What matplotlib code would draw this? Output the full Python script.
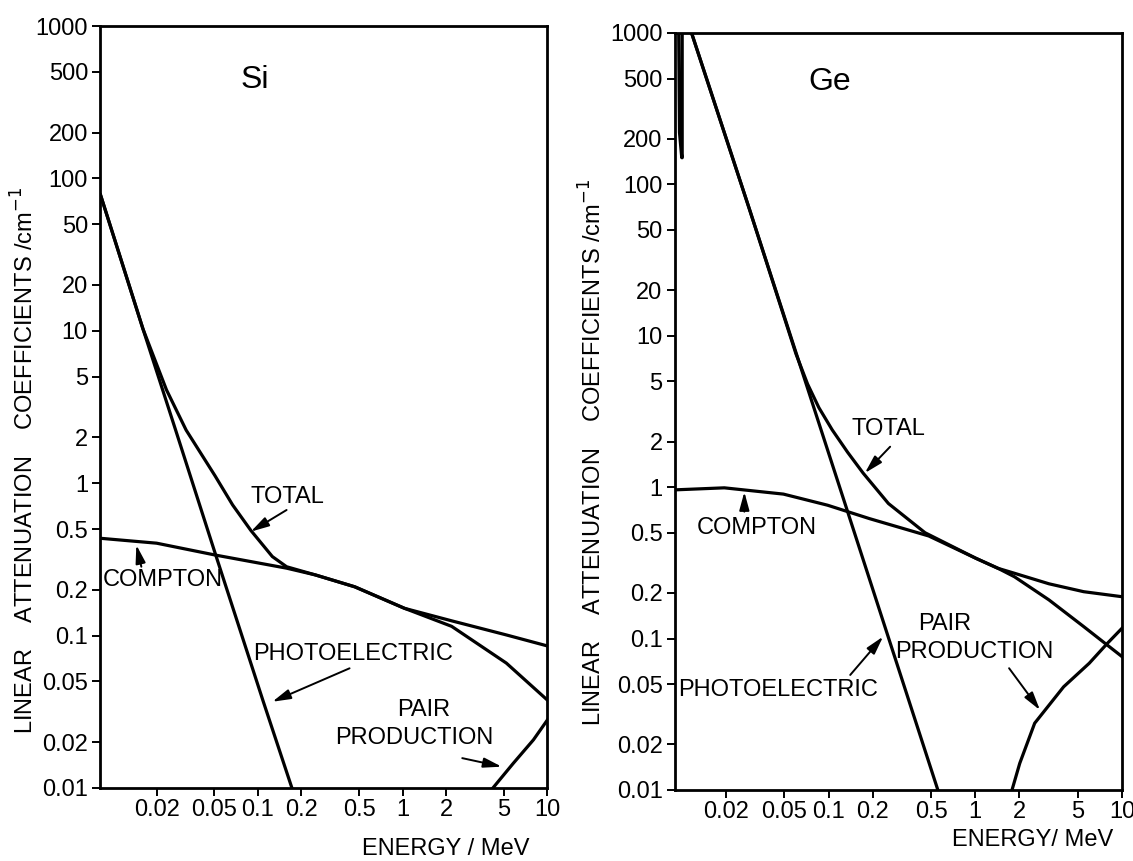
import numpy as np
import matplotlib
matplotlib.use('Agg')
import matplotlib.pyplot as plt
from matplotlib.ticker import FixedLocator, FixedFormatter, NullLocator

# ---- Si curves (energy / MeV, linear attenuation coefficient / cm^-1) ----
si_photo_e = [0.0082, 0.0161, 0.027, 0.0506, 0.109, 0.172]
si_photo_mu = [78, 10.3, 2.25, 0.35, 0.037, 0.01]

si_total_e = [0.0082, 0.0161, 0.0234, 0.032, 0.0506, 0.067, 0.0895, 0.126, 0.158, 0.25,
              0.467, 1.03, 2.18, 5.2, 10]
si_total_mu = [78, 10.3, 4.1, 2.23, 1.12, 0.72, 0.49, 0.33, 0.283, 0.25,
               0.209, 0.151, 0.125, 0.101, 0.0855]

si_compton_e = [0.0082, 0.02, 0.0506, 0.158, 0.25, 0.467, 1.03, 2.18, 5.2, 10]
si_compton_mu = [0.435, 0.404, 0.338, 0.277, 0.25, 0.209, 0.151, 0.115, 0.066, 0.0377]

si_pair_e = [4.2, 5.8, 8.0, 10]
si_pair_mu = [0.01, 0.0145, 0.0207, 0.028]

# ---- Ge curves ----
ge_photo_e = [0.0095, 0.00965, 0.0100, 0.01007, 0.01007, 0.0114, 0.029, 0.089, 0.133, 0.556]
ge_photo_mu = [1500, 220, 150, 150, 1500, 1070, 68, 2.39, 0.72, 0.01]

ge_total_e = [0.0114, 0.029, 0.06, 0.072, 0.086, 0.106, 0.135, 0.172, 0.256, 0.455,
              1.01, 1.43, 1.85, 3.18, 5.48, 10]
ge_total_mu = [1070, 68, 7.6, 4.8, 3.35, 2.39, 1.7, 1.24, 0.78, 0.50,
               0.339, 0.291, 0.27, 0.23, 0.204, 0.189]

ge_compton_e = [0.009, 0.0195, 0.0493, 0.0986, 0.19, 0.482, 1.01, 1.43, 1.85, 3.18, 5.48, 10]
ge_compton_mu = [0.96, 0.99, 0.9, 0.76, 0.62, 0.476, 0.339, 0.291, 0.256, 0.18, 0.12, 0.076]

ge_pair_e = [1.78, 2.01, 2.54, 4.0, 5.98, 7.95, 10]
ge_pair_mu = [0.01, 0.015, 0.0276, 0.048, 0.0687, 0.093, 0.117]

# ---- axis ticks ----
x_ticks = [0.02, 0.05, 0.1, 0.2, 0.5, 1, 2, 5, 10]
x_tick_labels = ['0.02', '0.05', '0.1', '0.2', '0.5', '1', '2', '5', '10']
y_ticks = [0.01, 0.02, 0.05, 0.1, 0.2, 0.5, 1, 2, 5, 10, 20, 50, 100, 200, 500, 1000]
y_tick_labels = ['0.01', '0.02', '0.05', '0.1', '0.2', '0.5', '1', '2', '5', '10',
                 '20', '50', '100', '200', '500', '1000']

FONT = ['Liberation Sans', 'DejaVu Sans']
FS = 17
LW = 2.3

plt.rcParams['font.family'] = FONT


def setup_axes(ax, xmin):
    ax.set_xscale('log')
    ax.set_yscale('log')
    ax.set_xlim(xmin, 10)
    ax.set_ylim(0.01, 1000)

    ax.xaxis.set_major_locator(FixedLocator(x_ticks))
    ax.xaxis.set_major_formatter(FixedFormatter(x_tick_labels))
    ax.xaxis.set_minor_locator(NullLocator())
    ax.yaxis.set_major_locator(FixedLocator(y_ticks))
    ax.yaxis.set_major_formatter(FixedFormatter(y_tick_labels))
    ax.yaxis.set_minor_locator(NullLocator())

    ax.tick_params(axis='both', direction='out', length=6, width=1.4, labelsize=FS)
    ax.tick_params(axis='y', pad=3)
    ax.tick_params(axis='x', pad=2)
    for sp in ax.spines.values():
        sp.set_linewidth(2.0)


def arrow(ax, tip, tail):
    ax.annotate('', xy=tip, xytext=tail,
                arrowprops=dict(arrowstyle='-|>,head_length=1.1,head_width=0.3',
                                color='black', lw=1.4, shrinkA=0, shrinkB=0))


def label(ax, x, y, s, ha='center'):
    ax.text(x, y, s, ha=ha, va='center', fontsize=FS)


fig = plt.figure(figsize=(11.33, 8.61), dpi=100)

# ------------------ Si panel ------------------
ax1 = fig.add_axes([0.0887, 0.0848, 0.3945, 0.8850])
setup_axes(ax1, 0.0082)
for e, mu in [(si_photo_e, si_photo_mu), (si_total_e, si_total_mu),
              (si_compton_e, si_compton_mu), (si_pair_e, si_pair_mu)]:
    ax1.plot(e, mu, color='black', lw=LW, solid_joinstyle='round')

ax1.text(0.0955, 443, 'Si', ha='center', va='center', fontsize=23)
label(ax1, 0.159, 0.81, 'TOTAL')
arrow(ax1, (0.0895, 0.481), (0.158, 0.667))
label(ax1, 0.0085, 0.232, 'COMPTON', ha='left')
arrow(ax1, (0.0145, 0.393), (0.0157, 0.283))
label(ax1, 0.454, 0.0757, 'PHOTOELECTRIC')
arrow(ax1, (0.126, 0.0368), (0.43, 0.061))
label(ax1, 1.40, 0.0325, 'PAIR')
label(ax1, 1.2, 0.0213, 'PRODUCTION')
arrow(ax1, (4.83, 0.0138), (2.58, 0.0157))

# ------------------ Ge panel ------------------
ax2 = fig.add_axes([0.5958, 0.0825, 0.3945, 0.8792])
setup_axes(ax2, 0.009)
for e, mu in [(ge_photo_e, ge_photo_mu), (ge_total_e, ge_total_mu),
              (ge_compton_e, ge_compton_mu), (ge_pair_e, ge_pair_mu)]:
    ax2.plot(e, mu, color='black', lw=LW, solid_joinstyle='round')

ax2.text(0.1026, 474, 'Ge', ha='center', va='center', fontsize=23)
label(ax2, 0.255, 2.44, 'TOTAL')
arrow(ax2, (0.177, 1.24), (0.263, 1.85))
label(ax2, 0.0326, 0.538, 'COMPTON')
arrow(ax2, (0.0267, 0.93), (0.0267, 0.689))
label(ax2, 0.0094, 0.0458, 'PHOTOELECTRIC', ha='left')
arrow(ax2, (0.2355, 0.103), (0.1406, 0.0575))
label(ax2, 0.622, 0.125, 'PAIR')
label(ax2, 0.98, 0.082, 'PRODUCTION')
arrow(ax2, (2.76, 0.0337), (1.70, 0.0637))

# ---- axis titles ----
ylab = 'LINEAR    ATTENUATION    COEFFICIENTS /cm$^{-1}$'
fig.text(25 / 1133, 1 - 460 / 861, ylab, rotation=90, ha='center', va='center',
         fontsize=FS)
fig.text(593 / 1133, 1 - 452 / 861, ylab, rotation=90, ha='center', va='center',
         fontsize=FS)
fig.text(446 / 1133, 1 - 849 / 861, 'ENERGY / MeV', ha='center', va='center',
         fontsize=FS)
fig.text(1033 / 1133, 1 - 840 / 861, 'ENERGY/ MeV', ha='center', va='center',
         fontsize=FS)

fig.savefig('out.png', dpi=100)
